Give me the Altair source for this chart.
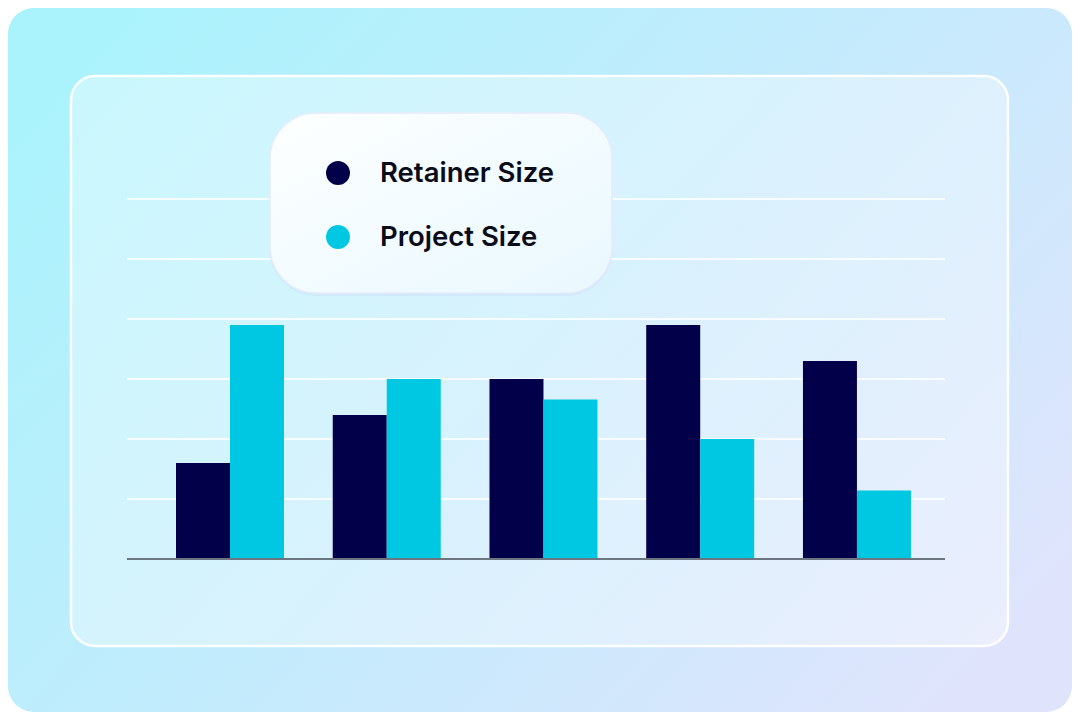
import altair as alt
import pandas as pd

# ---- data ----
groups = ["G1", "G2", "G3", "G4", "G5"]
series = ["Retainer Size", "Project Size"]
retainer = [16, 24, 30, 39, 33]
project = [39, 30, 26.6, 20, 11.4]
grid_levels = [10, 20, 30, 40, 50, 60]
colors = ["#03004A", "#00C7E2"]

rows = []
for g, r, p in zip(groups, retainer, project):
    rows.append({"group": g, "series": series[0], "value": r})
    rows.append({"group": g, "series": series[1], "value": p})
bars_df = pd.DataFrame(rows)
grid_df = pd.DataFrame({"level": grid_levels})
base_df = pd.DataFrame({"level": [0]})
legend_df = pd.DataFrame({"series": series, "i": list(range(len(series)))})
one = pd.DataFrame({"k": [0]})

W, H = 818, 360
ydom = [0, 60]

color_scale = alt.Scale(domain=series, range=colors)

bg_grad = alt.Gradient(
    gradient="linear",
    stops=[
        alt.GradientStop(color="#abf3fc", offset=0),
        alt.GradientStop(color="#c3ebfc", offset=0.5),
        alt.GradientStop(color="#dfe4fc", offset=1),
    ],
    x1=0, y1=0.2, x2=1, y2=0.8,
)
card_grad = alt.Gradient(
    gradient="linear",
    stops=[
        alt.GradientStop(color="#fdffff", offset=0),
        alt.GradientStop(color="#e9f8fe", offset=1),
    ],
    x1=0, y1=0, x2=1, y2=1,
)

bg = alt.Chart(one).mark_rect(fill=bg_grad, cornerRadius=26).encode(
    x=alt.value(-119), x2=alt.value(945), y=alt.value(-191), y2=alt.value(513)
)
panel = alt.Chart(one).mark_rect(
    fill="white", fillOpacity=0.36, stroke="white", strokeWidth=2.5,
    strokeOpacity=0.95, cornerRadius=24
).encode(x=alt.value(-56), x2=alt.value(881), y=alt.value(-123), y2=alt.value(447))

grid = alt.Chart(grid_df).mark_rule(color="white", strokeWidth=1.8, opacity=0.8).encode(
    y=alt.Y("level:Q", scale=alt.Scale(domain=ydom), axis=None),
    x=alt.value(0), x2=alt.value(W),
)

bars = alt.Chart(bars_df).mark_bar().encode(
    x=alt.X("group:N", sort=groups,
            scale=alt.Scale(paddingInner=0.311, paddingOuter=0.265, align=0.59),
            axis=None),
    xOffset=alt.XOffset("series:N", sort=series,
                        scale=alt.Scale(paddingInner=0, paddingOuter=0)),
    y=alt.Y("value:Q", scale=alt.Scale(domain=ydom), axis=None),
    color=alt.Color("series:N", scale=color_scale, legend=None),
)

baseline = alt.Chart(base_df).mark_rule(color="#6b7680", strokeWidth=2).encode(
    y=alt.Y("level:Q", scale=alt.Scale(domain=ydom), axis=None),
    x=alt.value(0), x2=alt.value(W),
)

card_shadow = alt.Chart(one).mark_rect(
    fill="#c5cdf6", fillOpacity=0.25, cornerRadius=48
).encode(x=alt.value(142), x2=alt.value(486), y=alt.value(-84), y2=alt.value(97))
card = alt.Chart(one).mark_rect(
    fill=card_grad, stroke="#e6ecfb", strokeWidth=1.5, cornerRadius=46
).encode(x=alt.value(143), x2=alt.value(485), y=alt.value(-86), y2=alt.value(94))

leg_dots = alt.Chart(legend_df).transform_calculate(
    cy="-26 + 64 * datum.i"
).mark_circle(size=573, opacity=1).encode(
    x=alt.value(211),
    y=alt.Y("cy:Q", scale=None, axis=None),
    color=alt.Color("series:N", scale=color_scale, legend=None),
)
leg_text = alt.Chart(legend_df).transform_calculate(
    ty="-17 + 64 * datum.i"
).mark_text(
    align="left", baseline="alphabetic", font="Inter", fontSize=27.5,
    fontWeight=600, color="#0b0b1a"
).encode(
    x=alt.value(253),
    y=alt.Y("ty:Q", scale=None, axis=None),
    text="series:N",
)

chart = alt.layer(
    bg, panel, grid, bars, baseline, card_shadow, card, leg_dots, leg_text
).resolve_scale(y="independent").properties(
    width=W, height=H,
    autosize=alt.AutoSizeParams(type="none"),
    padding={"left": 119, "right": 127, "top": 191, "bottom": 153},
    background="white",
).configure_view(stroke=None)

chart.save("out.html", embed_options={"renderer": "svg", "actions": False})
